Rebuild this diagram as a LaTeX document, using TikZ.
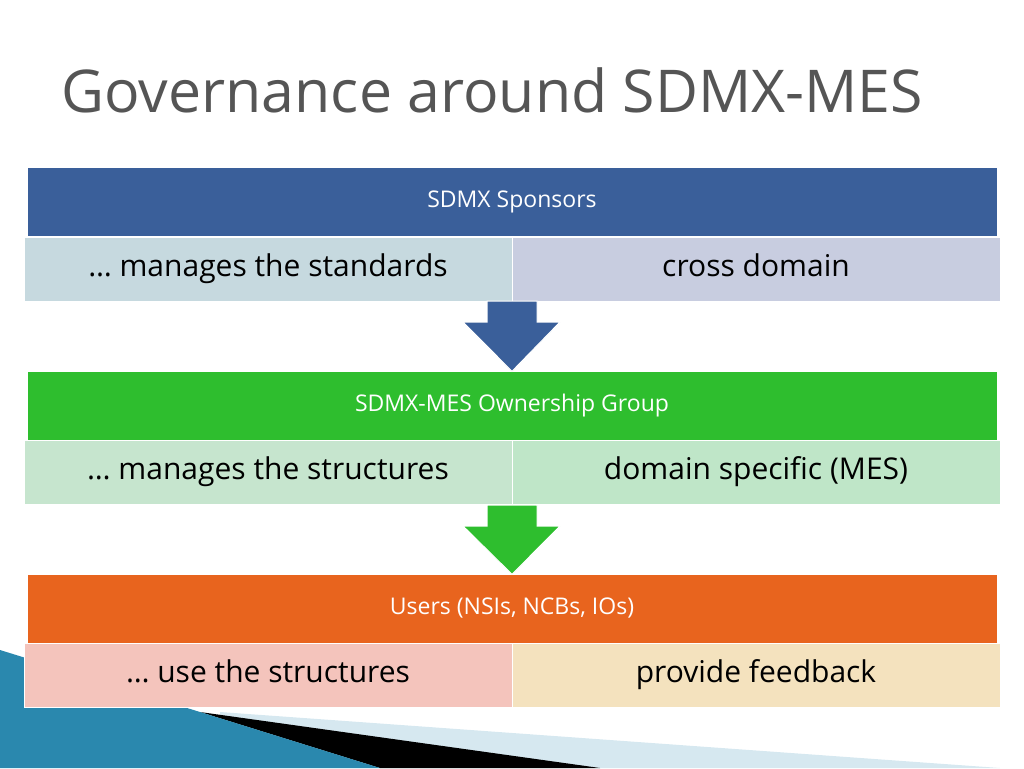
\documentclass[tikz,border=0pt]{standalone}
\usepackage{fontspec}
\setmainfont{Open Sans}
\usepackage{tikz}
\usetikzlibrary{positioning}
\definecolor{sponsorblue}{HTML}{3A5F9A}
\definecolor{ownergreen}{HTML}{2EBE2E}
\definecolor{userorange}{HTML}{E8641E}
\definecolor{titlegrey}{HTML}{555555}
\definecolor{sponsorleft}{HTML}{C6D9DF}
\definecolor{sponsorright}{HTML}{C8CDE0}
\definecolor{ownerleft}{HTML}{C6E5CE}
\definecolor{ownerright}{HTML}{BFE6C8}
\definecolor{userleft}{HTML}{F4C4BC}
\definecolor{userright}{HTML}{F4E2BE}
\definecolor{decoteal}{HTML}{2A88AE}
\definecolor{decolight}{HTML}{D6E8F0}
\begin{document}
\begin{tikzpicture}[x=1pt, y=-1pt]
    % Define styles
    \tikzset{
        header/.style={rectangle, minimum width=970pt, minimum height=69pt, text=white, font=\fontsize{23}{26}\selectfont, text height=16pt, text depth=5pt, draw=white, inner sep=0pt},
        cell/.style={rectangle, minimum width=488pt, minimum height=64pt, font=\fontsize{30}{34}\selectfont, text height=22pt, text depth=7pt, inner sep=0pt, draw=white},
        downarrow/.style={draw=white, line width=1pt}
    }
    \useasboundingbox (0,0) rectangle (1024,768);

    % Decoration
    \fill[decolight] (220,712) -- (1000,768) -- (220,768) -- cycle;
    \fill[black] (200,712) -- (600,768) -- (380,768) -- cycle;
    \fill[decoteal] (0,650) -- (200,712) -- (380,768) -- (0,768) -- cycle;

    % Title
    \node[font=\fontsize{59}{66}\selectfont, text=titlegrey, anchor=west] (title) at (58,90) {Governance around SDMX-MES};

    % Nodes
    \node[header, fill=sponsorblue] (sponsors) at (512,202) {SDMX Sponsors};
    \node[cell, fill=sponsorleft] (sponsors_left) at (268,269) {… manages the standards};
    \node[cell, fill=sponsorright] (sponsors_right) at (756,269) {cross domain};

    \node[header, fill=ownergreen] (owners) at (512,406) {SDMX-MES Ownership Group};
    \node[cell, fill=ownerleft] (owners_left) at (268,472) {… manages the structures};
    \node[cell, fill=ownerright] (owners_right) at (756,472) {domain specific (MES)};

    \node[header, fill=userorange] (users) at (512,609) {Users (NSIs, NCBs, IOs)};
    \node[cell, fill=userleft] (users_left) at (268,675) {… use the structures};
    \node[cell, fill=userright] (users_right) at (756,675) {provide feedback};

    % Connections
    \draw[downarrow, fill=sponsorblue] (487,301) -- (537,301) -- (537,322) -- (560,322) -- (owners.north) -- (463,322) -- (487,322) -- cycle;
    \draw[downarrow, fill=ownergreen] (487,505) -- (537,505) -- (537,526) -- (560,526) -- (users.north) -- (463,526) -- (487,526) -- cycle;
\end{tikzpicture}
\end{document}
